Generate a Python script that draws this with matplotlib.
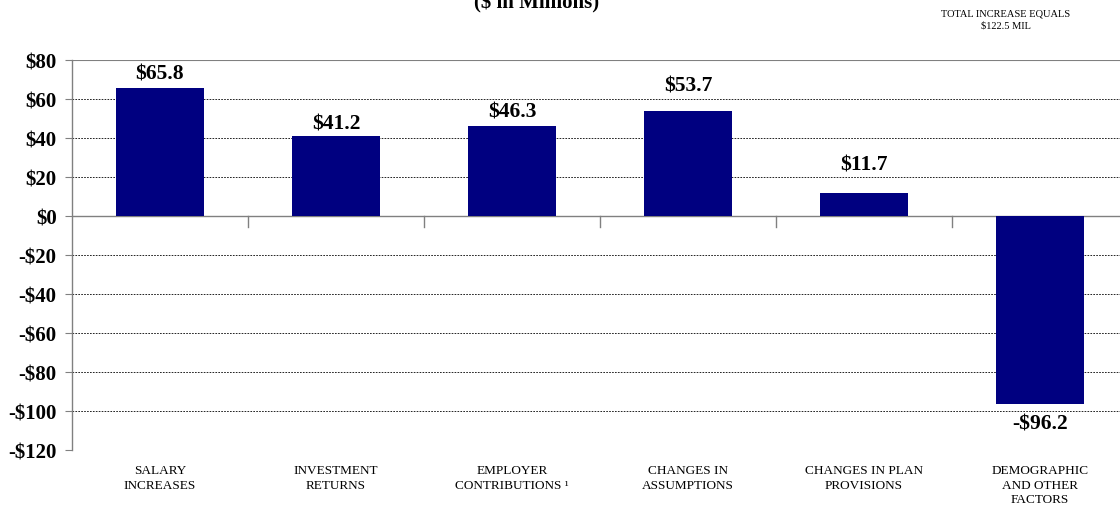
import matplotlib
matplotlib.use("Agg")
import matplotlib.pyplot as plt
import matplotlib.transforms as mtransforms

# ---------------------------------------------------------------------------
# Data
# ---------------------------------------------------------------------------

categories = [
    "SALARY\nINCREASES",
    "INVESTMENT\nRETURNS",
    "EMPLOYER\nCONTRIBUTIONS \u00b9",
    "CHANGES IN\nASSUMPTIONS",
    "CHANGES IN PLAN\nPROVISIONS",
    "DEMOGRAPHIC\nAND OTHER\nFACTORS",
]
values = [65.8, 41.2, 46.3, 53.7, 11.7, -96.2]
y_ticks = [80, 60, 40, 20, 0, -20, -40, -60, -80, -100, -120]

NAVY = "#000080"
GRID = "#000000"
AXIS = "#808080"

plt.rcParams["font.family"] = ["Liberation Serif", "DejaVu Serif"]

fig = plt.figure(figsize=(11.2, 5.06), dpi=100)
ax = fig.add_axes([72 / 1120, 55 / 506, 1056 / 1120, 390 / 506])

xs = list(range(len(values)))
ax.bar(xs, values, width=0.5, color=NAVY, zorder=3)

ax.set_xlim(-0.5, len(values) - 0.5)
ax.set_ylim(-120, 80)
ax.set_yticks(y_ticks)
ax.set_yticklabels([f"${v}" if v >= 0 else f"-${-v}" for v in y_ticks],
                   fontsize=15, fontweight="bold")
ax.tick_params(axis="y", length=5, color=AXIS, pad=6)

for v in y_ticks:
    if v in (0, 80):
        continue
    ax.axhline(v, color=GRID, linewidth=0.6, linestyle=(0, (2, 1.5)), zorder=1)
ax.axhline(0, color=AXIS, linewidth=1.0, zorder=2)
ax.axhline(80, color=AXIS, linewidth=0.8, zorder=2)

for side in ("top", "right", "bottom"):
    ax.spines[side].set_visible(False)
ax.spines["left"].set_color(AXIS)
ax.spines["left"].set_linewidth(1.0)

# category tick marks hang below the zero line at the boundaries
ax.set_xticks([])
for b in range(1, len(values)):
    ax.plot([b - 0.5, b - 0.5], [0, -5.5], color=AXIS, linewidth=1.0,
            zorder=2, clip_on=False)

# value labels
offsets = [14, 12, 14, 26, 29, -20]
for x, v, off in zip(xs, values, offsets):
    label = f"${v:.1f}" if v >= 0 else f"-${-v:.1f}"
    ax.annotate(label, (x, v), xytext=(0, off * 0.72), textcoords="offset points",
                ha="center", va="center", fontsize=15.5, fontweight="bold")

# category labels below the plot area
trans = mtransforms.blended_transform_factory(ax.transData, ax.transAxes)
for x, name in zip(xs, categories):
    ax.text(x, -0.036, name, transform=trans, ha="center", va="top",
            fontsize=9.5, linespacing=1.3)

fig.text(537 / 1120, 1 - 3 / 506, "($ in Millions)", ha="center", va="center",
         fontsize=15, fontweight="bold")
fig.text(1006 / 1120, 1 - 20 / 506, "TOTAL INCREASE EQUALS\n$122.5 MIL",
         ha="center", va="center", fontsize=7.5, linespacing=1.5)

fig.savefig("out.png", dpi=100, facecolor="white")
plt.close(fig)
